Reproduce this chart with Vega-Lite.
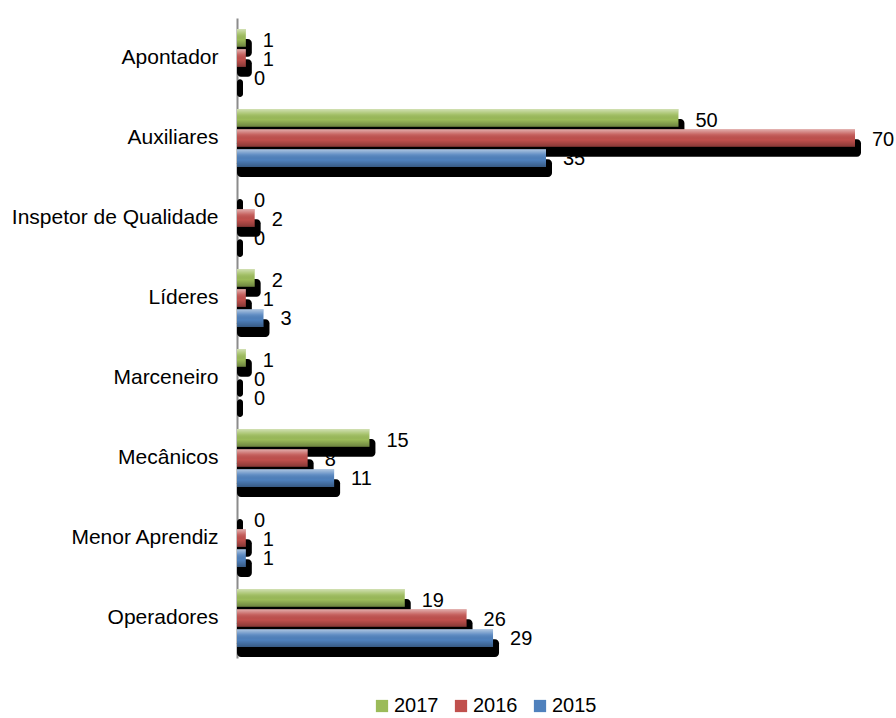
{
  "$schema": "https://vega.github.io/schema/vega-lite/v6.json",
  "width": 618,
  "height": 640,
  "autosize": {"type": "none"},
  "padding": {"left": 237, "top": 18, "right": 41, "bottom": 60},
  "background": "white",
  "config": {"view": {"stroke": null}, "font": "Liberation Sans"},
  "data": {"values": [
    {"cat": "Apontador", "year": "2017", "value": 1},
    {"cat": "Apontador", "year": "2016", "value": 1},
    {"cat": "Apontador", "year": "2015", "value": 0},
    {"cat": "Auxiliares", "year": "2017", "value": 50},
    {"cat": "Auxiliares", "year": "2016", "value": 70},
    {"cat": "Auxiliares", "year": "2015", "value": 35},
    {"cat": "Inspetor de Qualidade", "year": "2017", "value": 0},
    {"cat": "Inspetor de Qualidade", "year": "2016", "value": 2},
    {"cat": "Inspetor de Qualidade", "year": "2015", "value": 0},
    {"cat": "Líderes", "year": "2017", "value": 2},
    {"cat": "Líderes", "year": "2016", "value": 1},
    {"cat": "Líderes", "year": "2015", "value": 3},
    {"cat": "Marceneiro", "year": "2017", "value": 1},
    {"cat": "Marceneiro", "year": "2016", "value": 0},
    {"cat": "Marceneiro", "year": "2015", "value": 0},
    {"cat": "Mecânicos", "year": "2017", "value": 15},
    {"cat": "Mecânicos", "year": "2016", "value": 8},
    {"cat": "Mecânicos", "year": "2015", "value": 11},
    {"cat": "Menor Aprendiz", "year": "2017", "value": 0},
    {"cat": "Menor Aprendiz", "year": "2016", "value": 1},
    {"cat": "Menor Aprendiz", "year": "2015", "value": 1},
    {"cat": "Operadores", "year": "2017", "value": 19},
    {"cat": "Operadores", "year": "2016", "value": 26},
    {"cat": "Operadores", "year": "2015", "value": 29}
  ]},
  "encoding": {
    "y": {
      "field": "cat", "type": "nominal", "sort": null,
      "scale": {"paddingInner": 0.275, "paddingOuter": 0.1375},
      "axis": {"title": null, "ticks": false, "domainColor": "#8c8c8c", "domainWidth": 2, "labelFontSize": 21, "labelColor": "#000000", "labelPadding": 19, "labelFont": "Liberation Sans", "labelLimit": 400}
    },
    "x": {"field": "value", "type": "quantitative", "scale": {"domain": [0, 70], "nice": false}, "axis": null}
  },
  "layer": [
    {
      "mark": {"type": "bar", "color": "#000000", "xOffset": 6, "cornerRadius": 4},
      "encoding": {
        "x2": {"datum": 0},
        "yOffset": {"field": "year", "type": "nominal", "sort": ["2017", "2016", "2015"], "scale": {"paddingInner": 0.12, "range": [10, 68]}}
      }
    },
    {
      "mark": {"type": "bar"},
      "encoding": {
        "yOffset": {"field": "year", "type": "nominal", "sort": ["2017", "2016", "2015"], "scale": {"paddingInner": 0.12}},
        "color": {
          "field": "year", "type": "nominal",
          "scale": {"domain": ["2017", "2016", "2015"], "range": ["#9bbb59", "#c0504d", "#4f81bd"]},
          "legend": {"title": null, "orient": "none", "legendX": 135, "legendY": 678, "direction": "horizontal", "symbolType": "square", "symbolSize": 150, "labelFontSize": 20, "labelColor": "#000000", "labelFont": "Liberation Sans", "columnPadding": 12, "symbolStrokeWidth": 0, "labelOffset": 2}
        }
      }
    },
    {
      "mark": {"type": "bar", "color": {"gradient": "linear", "x1": 0, "y1": 0, "x2": 0, "y2": 1, "stops": [{"offset": 0, "color": "rgba(255,255,255,0.55)"}, {"offset": 0.3, "color": "rgba(255,255,255,0.12)"}, {"offset": 0.6, "color": "rgba(0,0,0,0)"}, {"offset": 1, "color": "rgba(0,0,0,0.3)"}]}},
      "encoding": {
        "yOffset": {"field": "year", "type": "nominal", "sort": ["2017", "2016", "2015"], "scale": {"paddingInner": 0.12}}
      }
    },
    {
      "mark": {"type": "text", "align": "left", "baseline": "middle", "dx": 17, "dy": 2, "fontSize": 20, "font": "Liberation Sans", "color": "#000000"},
      "encoding": {
        "yOffset": {"field": "year", "type": "nominal", "sort": ["2017", "2016", "2015"], "scale": {"paddingInner": 0.12}},
        "text": {"field": "value", "type": "quantitative"}
      }
    }
  ],
  "resolve": {"scale": {"yOffset": "independent"}}
}
